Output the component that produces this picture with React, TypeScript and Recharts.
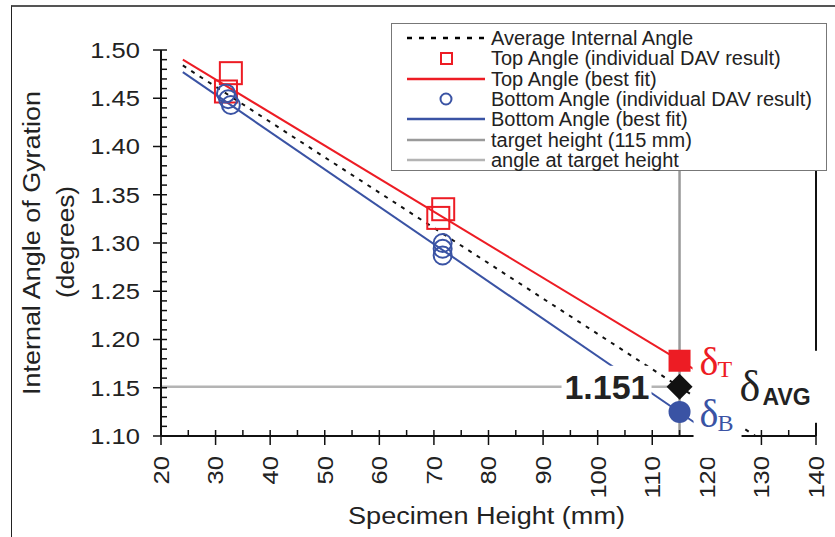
import React from 'react';
import {
  ComposedChart,
  Line,
  Scatter,
  XAxis,
  YAxis,
  ReferenceLine,
  ReferenceDot,
  Legend,
} from 'recharts';

// ---------- data ----------
const topAngleDAV = [
  { h: 32.8, v: 1.476 },
  { h: 31.9, v: 1.457 },
  { h: 71.7, v: 1.335 },
  { h: 70.8, v: 1.326 },
];
const bottomAngleDAV = [
  { h: 31.9, v: 1.455 },
  { h: 32.3, v: 1.449 },
  { h: 32.8, v: 1.443 },
  { h: 71.6, v: 1.3 },
  { h: 71.6, v: 1.294 },
  { h: 71.6, v: 1.287 },
];
const topBestFit = [
  { h: 24, v: 1.49 },
  { h: 118, v: 1.168 },
];
const bottomBestFit = [
  { h: 24, v: 1.477 },
  { h: 118, v: 1.113 },
];
const averageAngle = [
  { h: 24, v: 1.484 },
  { h: 130, v: 1.096 },
];
const targetHeightLine = [
  { h: 115, v: 1.1 },
  { h: 115, v: 1.5 },
];
const angleAtTargetLine = [
  { h: 20, v: 1.151 },
  { h: 115, v: 1.151 },
];
const topAtTarget = [{ h: 115, v: 1.178 }];
const avgAtTarget = [{ h: 115, v: 1.151 }];
const bottomAtTarget = [{ h: 115, v: 1.125 }];

const xMajorTicks = [20, 30, 40, 50, 60, 70, 80, 90, 100, 110, 120, 130, 140];
const xMinorTicks = [25, 35, 45, 55, 65, 75, 85, 95, 105, 115, 125, 135];
const yMajorTicks = [1.1, 1.15, 1.2, 1.25, 1.3, 1.35, 1.4, 1.45, 1.5];
const yMinorTicks: number[] = [];
for (let i = 0; i <= 40; i++) yMinorTicks.push(Math.round((1.1 + i * 0.01) * 100) / 100);

const avgLabel = '1.151';
const xTitle = 'Specimen Height (mm)';
const yTitle1 = 'Internal Angle of Gyration';
const yTitle2 = '(degrees)';

const RED = '#ed1c24';
const BLUE = '#3a53a4';
const GRAY_V = '#9a9a9a';
const GRAY_H = '#b4b4b4';
const SANS = '"Liberation Sans", Arial, Helvetica, sans-serif';
const SERIF = '"Liberation Serif", "Times New Roman", serif';

const legendItems = [
  { label: 'Average Internal Angle', kind: 'dash', color: '#000' },
  { label: 'Top Angle (individual DAV result)', kind: 'square', color: RED },
  { label: 'Top Angle (best fit)', kind: 'line', color: RED },
  { label: 'Bottom Angle (individual DAV result)', kind: 'circle', color: BLUE },
  { label: 'Bottom Angle (best fit)', kind: 'line', color: BLUE },
  { label: 'target height (115 mm)', kind: 'line', color: GRAY_V },
  { label: 'angle at target height', kind: 'line', color: GRAY_H },
];

// tick-label text is slightly wide in the original: stretch digits a bit
const TICK_FS = 22;
const STRETCH = 1.16;
const numWidth = (s: string) =>
  s.split('').reduce((w, c) => w + (c === '.' ? 0.278 : 0.556), 0) * TICK_FS * STRETCH;

// ---------- shapes ----------
const HollowSquare = (p: any) => (
  <rect x={p.cx - 11} y={p.cy - 11} width={22} height={22} fill="none" stroke={RED} strokeWidth={2} />
);
const HollowCircle = (p: any) => (
  <circle cx={p.cx} cy={p.cy} r={9} fill="none" stroke={BLUE} strokeWidth={2} />
);
const FilledSquare = (p: any) => (
  <rect x={p.cx - 11} y={p.cy - 11} width={22} height={22} fill={RED} />
);
const FilledDiamond = (p: any) => (
  <polygon
    points={`${p.cx},${p.cy - 13} ${p.cx + 13},${p.cy} ${p.cx},${p.cy + 13} ${p.cx - 13},${p.cy}`}
    fill="#111"
  />
);
const FilledCircle = (p: any) => <circle cx={p.cx} cy={p.cy} r={11} fill={BLUE} />;

const isMajor = (list: number[], v: number) => list.some((t) => Math.abs(t - v) < 1e-6);

const XTick = (props: any) => {
  const { x, y, payload } = props;
  const v = payload.value;
  const major = isMajor(xMajorTicks, v);
  const s = String(v);
  return (
    <g>
      <line x1={x} x2={x} y1={y - 6} y2={major ? y + 9 : y} stroke="#111" strokeWidth={1.5} />
      {major && (
        <text
          x={x}
          y={y + 20}
          dy="0.36em"
          textAnchor="end"
          transform={`rotate(-90, ${x}, ${y + 20})`}
          fontFamily={SANS}
          fontSize={TICK_FS}
          fill="#222"
          textLength={numWidth(s)}
          lengthAdjust="spacingAndGlyphs"
        >
          {s}
        </text>
      )}
    </g>
  );
};

const YTick = (props: any) => {
  const { x, y, payload } = props;
  const v = payload.value;
  const major = isMajor(yMajorTicks, v);
  const s = v.toFixed(2);
  return (
    <g>
      <line x1={major ? x - 8 : x} x2={x + 6} y1={y} y2={y} stroke="#111" strokeWidth={1.5} />
      {major && (
        <text
          x={x - 21}
          y={y}
          dy="0.36em"
          textAnchor="end"
          fontFamily={SANS}
          fontSize={TICK_FS}
          fill="#222"
          textLength={numWidth(s)}
          lengthAdjust="spacingAndGlyphs"
        >
          {s}
        </text>
      )}
    </g>
  );
};

const LegendBox = () => (
  <div
    style={{
      width: 436,
      height: 148,
      border: '1.5px solid #777',
      background: '#fff',
      boxSizing: 'border-box',
      paddingTop: 4,
      fontFamily: SANS,
      fontSize: 20,
      color: '#222',
    }}
  >
    {legendItems.map((it) => (
      <div key={it.label} style={{ display: 'flex', alignItems: 'center', height: 20.3, lineHeight: '20px' }}>
        <svg width={82} height={20} style={{ marginLeft: 13, marginRight: 4, flex: 'none' }}>
          {it.kind === 'dash' && (
            <line x1={2} x2={80} y1={10} y2={10} stroke="#000" strokeWidth={2.5} strokeDasharray="5 7" />
          )}
          {it.kind === 'line' && <line x1={2} x2={80} y1={10} y2={10} stroke={it.color} strokeWidth={2.5} />}
          {it.kind === 'square' && (
            <rect x={36} y={5} width={11} height={11} fill="none" stroke={it.color} strokeWidth={2} />
          )}
          {it.kind === 'circle' && <circle cx={41} cy={10} r={5.5} fill="none" stroke={it.color} strokeWidth={2} />}
        </svg>
        <span style={{ whiteSpace: 'nowrap' }}>{it.label}</span>
      </div>
    ))}
  </div>
);

// text boxes at the target height (white boxes like the original's text boxes)
const TopTargetLabel = (p: any) => (
  <g>
    <rect x={p.cx + 13} y={p.cy - 18} width={48} height={38} fill="#fff" />
    <text x={p.cx + 20} y={p.cy + 14} fontFamily={SERIF} fontSize={40} fill={RED}>
      δ
    </text>
    <text x={p.cx + 38} y={p.cy + 16} fontFamily={SERIF} fontSize={24} fill={RED}>
      T
    </text>
  </g>
);
const BottomTargetLabel = (p: any) => (
  <g>
    <rect x={p.cx + 14} y={p.cy - 16} width={48} height={62} fill="#fff" />
    <text x={p.cx + 20} y={p.cy + 15} fontFamily={SERIF} fontSize={40} fill={BLUE}>
      δ
    </text>
    <text x={p.cx + 38} y={p.cy + 19} fontFamily={SERIF} fontSize={24} fill={BLUE}>
      B
    </text>
  </g>
);
const AvgTargetLabel = (p: any) => (
  <g>
    <rect x={p.cx - 118} y={p.cy - 21} width={90} height={40} fill="#fff" />
    <text
      x={p.cx - 30}
      y={p.cy + 12}
      textAnchor="end"
      fontFamily={SANS}
      fontWeight="bold"
      fontSize={34}
      fill="#222"
    >
      {avgLabel}
    </text>
    <rect x={p.cx + 55} y={p.cy - 36} width={84} height={72} fill="#fff" />
    <text x={p.cx + 60} y={p.cy + 14} fontFamily={SERIF} fontSize={44} fill="#222">
      δ
    </text>
    <text x={p.cx + 83} y={p.cy + 18} fontFamily={SANS} fontWeight="bold" fontSize={23} fill="#222">
      AVG
    </text>
  </g>
);

export default function App() {
  return (
    <div style={{ position: 'absolute', left: 0, top: 0, width: 835, height: 537, overflow: 'hidden', background: '#fff' }}>
      <div
        style={{
          position: 'absolute',
          left: 11,
          top: 5,
          width: 900,
          height: 600,
          borderLeft: '1.5px solid #222',
          borderTop: '2px solid #555',
        }}
      />
      <div style={{ position: 'absolute', left: 0, top: 0 }}>
        <ComposedChart width={835} height={537} margin={{ top: 50, right: 19, bottom: 0, left: 0 }}>
          <XAxis
            type="number"
            dataKey="h"
            domain={[20, 140]}
            allowDataOverflow
            ticks={[...xMajorTicks, ...xMinorTicks].sort((a, b) => a - b)}
            interval={0}
            tickSize={0}
            tickMargin={0}
            tickLine={false}
            tick={<XTick />}
            axisLine={{ stroke: '#111', strokeWidth: 2 }}
            height={101}
            label={{
              content: (lp: any) => {
                const vb = lp.viewBox || { x: 161, width: 655 };
                const cx = vb.x + vb.width / 2 - 2;
                return (
                  <text
                    x={cx}
                    y={524}
                    textAnchor="middle"
                    fontFamily={SANS}
                    fontSize={23}
                    fill="#222"
                    textLength={277}
                    lengthAdjust="spacingAndGlyphs"
                  >
                    {xTitle}
                  </text>
                );
              },
            }}
          />
          <YAxis
            type="number"
            dataKey="v"
            domain={[1.1, 1.5]}
            allowDataOverflow
            ticks={yMinorTicks}
            interval={0}
            tickSize={0}
            tickMargin={0}
            tickLine={false}
            tick={<YTick />}
            axisLine={{ stroke: '#111', strokeWidth: 2 }}
            width={161}
            label={{
              content: () => (
                <g fontFamily={SANS} fontSize={23} fill="#222">
                  <text
                    x={40}
                    y={243}
                    textAnchor="middle"
                    transform="rotate(-90, 40, 243)"
                    textLength={304}
                    lengthAdjust="spacingAndGlyphs"
                  >
                    {yTitle1}
                  </text>
                  <text
                    x={74}
                    y={242}
                    textAnchor="middle"
                    transform="rotate(-90, 74, 242)"
                    textLength={112}
                    lengthAdjust="spacingAndGlyphs"
                  >
                    {yTitle2}
                  </text>
                </g>
              ),
            }}
          />
          <Legend
            layout="horizontal"
            verticalAlign="middle"
            align="center"
            wrapperStyle={{ position: 'absolute', left: 391, top: 23, width: 438, height: 150 }}
            content={() => <LegendBox />}
          />
          <Line
            data={targetHeightLine}
            dataKey="v"
            name="target height (115 mm)"
            stroke={GRAY_V}
            strokeWidth={2.5}
            dot={false}
            activeDot={false}
            isAnimationActive={false}
          />
          <Line
            data={angleAtTargetLine}
            dataKey="v"
            name="angle at target height"
            stroke={GRAY_H}
            strokeWidth={2.5}
            dot={false}
            activeDot={false}
            isAnimationActive={false}
          />
          <Line
            data={averageAngle}
            dataKey="v"
            name="Average Internal Angle"
            stroke="#111"
            strokeWidth={2}
            strokeDasharray="4 6"
            dot={false}
            activeDot={false}
            isAnimationActive={false}
          />
          <Line
            data={topBestFit}
            dataKey="v"
            name="Top Angle (best fit)"
            stroke={RED}
            strokeWidth={2}
            dot={false}
            activeDot={false}
            isAnimationActive={false}
          />
          <Line
            data={bottomBestFit}
            dataKey="v"
            name="Bottom Angle (best fit)"
            stroke={BLUE}
            strokeWidth={2}
            dot={false}
            activeDot={false}
            isAnimationActive={false}
          />
          <Scatter
            data={topAngleDAV}
            dataKey="v"
            name="Top Angle (individual DAV result)"
            shape={HollowSquare}
            isAnimationActive={false}
          />
          <Scatter
            data={bottomAngleDAV}
            dataKey="v"
            name="Bottom Angle (individual DAV result)"
            shape={HollowCircle}
            isAnimationActive={false}
          />
          <Scatter data={topAtTarget} dataKey="v" shape={FilledSquare} isAnimationActive={false} legendType="none" />
          <Scatter data={avgAtTarget} dataKey="v" shape={FilledDiamond} isAnimationActive={false} legendType="none" />
          <Scatter data={bottomAtTarget} dataKey="v" shape={FilledCircle} isAnimationActive={false} legendType="none" />
          <ReferenceLine x={140} stroke="#111" strokeWidth={2} />
          <ReferenceDot
            x={topAtTarget[0].h}
            y={topAtTarget[0].v}
            r={0}
            shape={TopTargetLabel}
            zIndex={2000}
          />
          <ReferenceDot
            x={bottomAtTarget[0].h}
            y={bottomAtTarget[0].v}
            r={0}
            shape={BottomTargetLabel}
            zIndex={2000}
          />
          <ReferenceDot
            x={avgAtTarget[0].h}
            y={avgAtTarget[0].v}
            r={0}
            shape={AvgTargetLabel}
            zIndex={2000}
          />
        </ComposedChart>
      </div>
    </div>
  );
}
